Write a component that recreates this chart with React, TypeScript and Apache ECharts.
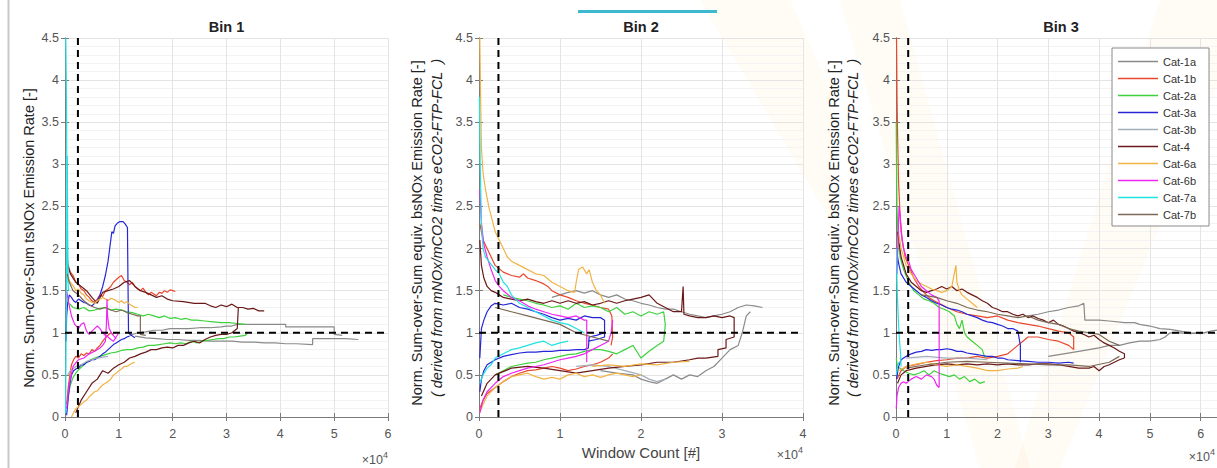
import React, { useEffect, useRef } from "react";
import * as echarts from "echarts";

const CATEGORIES = ["Cat-1a", "Cat-1b", "Cat-2a", "Cat-3a", "Cat-3b", "Cat-4", "Cat-6a", "Cat-6b", "Cat-7a", "Cat-7b"];
const COLORS = ["#8a8a8a", "#e8482c", "#3dd23d", "#2626d8", "#a4aebb", "#6a1818", "#f0b446", "#f025f0", "#22e2e2", "#7d6a55"];
const BIN_TITLES = ["Bin 1", "Bin 2", "Bin 3"];
const X_MAX = [60000, 40000, 65000];
const X_STEP = 10000;
const Y_MIN = 0;
const Y_MAX = 4.5;
const Y_STEP = 0.5;
const REF_X = 2400;
const REF_Y = 1;

// ---------------- Bin 1 ----------------
const B1_CAT1A = [
  [[12000,0.97],[13500,1.0],[15000,1.01],[16500,1.03],[18000,1.03],[19500,1.05],[21000,1.05],[23000,1.05],[25000,1.06],[27000,1.06],[29000,1.07],[30000,1.08],[31000,1.08],[32000,1.1],[34000,1.1],[37000,1.1],[41000,1.1],[41000,1.07],[45000,1.07],[50000,1.07],[50000,0.98],[51500,0.97]],
  [[13000,0.96],[15000,0.94],[17000,0.93],[19000,0.92],[21000,0.92],[23000,0.91],[25000,0.91],[27000,0.9],[29000,0.9],[31000,0.9],[33000,0.89],[35000,0.89],[37000,0.88],[39000,0.88],[41000,0.87],[43000,0.87],[46000,0.86],[46000,0.93],[49000,0.93],[52000,0.93],[54500,0.92]],
];
const B1_CAT1B = [
  [[300,1.95],[600,1.8],[1000,1.72],[1500,1.68],[2000,1.6],[2500,1.58],[3000,1.52],[3500,1.5],[4000,1.45],[4500,1.42],[5000,1.38],[5500,1.36],[6000,1.4],[6500,1.45],[7000,1.43],[7500,1.5],[8000,1.52],[8500,1.55],[9000,1.6],[9500,1.63],[10000,1.66],[10500,1.68],[11000,1.62],[11500,1.6],[12000,1.57],[12500,1.6],[13000,1.55],[13500,1.52],[14000,1.5],[14500,1.53],[15000,1.48],[15500,1.45],[16000,1.48],[16500,1.46],[17000,1.44],[17500,1.48],[18000,1.47],[18500,1.5],[19000,1.48],[19500,1.51],[20000,1.5],[20500,1.49]],
  [[300,0.15],[600,0.35],[900,0.5],[1200,0.62],[1600,0.68],[2000,0.72],[2500,0.7],[3000,0.75],[3500,0.73],[4000,0.76],[4500,0.75],[5000,0.8],[5500,0.78],[6000,0.82],[6500,0.85],[7000,0.9],[7500,0.94],[8000,0.97],[8500,1.0],[9000,0.98]],
];
const B1_CAT2A = [
  [[800,1.35],[1500,1.3],[2500,1.28],[3500,1.3],[4500,1.26],[5500,1.27],[6500,1.29],[7500,1.3],[8500,1.27],[9500,1.28],[10500,1.27],[11500,1.25],[12500,1.24],[13500,1.22],[14500,1.2],[15500,1.22],[16500,1.2],[17500,1.18],[18500,1.2],[19500,1.17],[20500,1.18],[21500,1.16],[22500,1.17],[23500,1.15],[24500,1.15],[26000,1.14],[27500,1.13],[29000,1.12],[30500,1.12],[32000,1.11],[33500,1.1]],
  [[600,0.25],[1000,0.38],[1500,0.47],[2000,0.52],[2500,0.56],[3500,0.62],[4500,0.67],[5500,0.7],[6500,0.72],[7500,0.74],[8500,0.76],[9500,0.77],[10500,0.79],[11500,0.8],[12500,0.8],[13500,0.82],[14500,0.83],[15500,0.85],[16500,0.85],[17500,0.86],[18500,0.87],[19500,0.88],[20500,0.87],[21500,0.88],[22500,0.87],[23500,0.9],[24500,0.88],[25500,0.9],[26500,0.91],[27500,0.92],[28500,0.93],[29500,0.93],[30500,0.95],[31500,0.95],[32500,0.96],[33500,0.97],[34000,1.0]],
];
const B1_CAT3A = [
  [[200,0.9],[300,1.2],[500,1.35],[800,1.45],[1200,1.42],[1600,1.38],[2000,1.36],[2500,1.4],[3000,1.38],[3500,1.36],[4000,1.35],[4500,1.33],[5000,1.32],[5500,1.35],[6000,1.38],[6500,1.45],[7000,1.55],[7500,1.68],[8000,1.85],[8400,2.05],[8700,2.2],[9000,2.18],[9300,2.27],[9700,2.3],[10200,2.32],[10800,2.32],[11200,2.29],[11600,2.25],[11700,1.6],[11800,1.0],[12300,0.97],[13000,0.94]],
  [[300,0.02],[500,0.15],[800,0.35],[1200,0.5],[1600,0.55],[2000,0.57],[2500,0.58],[3000,0.62],[3500,0.62],[4000,0.65],[4500,0.66],[5000,0.68],[5500,0.68],[6000,0.7],[6500,0.72],[7000,0.75],[7500,0.77],[8000,0.8],[8500,0.83],[9000,0.86],[9500,0.88],[10000,0.9],[10500,0.92],[11000,0.93],[11500,0.95],[12000,0.96]],
];
const B1_CAT3B = [
  [[500,0.5],[1000,0.55],[2000,0.6],[3000,0.62],[4000,0.66],[5000,0.68],[6000,0.7],[7000,0.71],[8000,0.72]],
];
const B1_CAT4 = [
  [[300,1.85],[1000,1.7],[2000,1.6],[3000,1.55],[4000,1.5],[5000,1.42],[6000,1.35],[7000,1.48],[8000,1.5],[9000,1.52],[10000,1.55],[11000,1.6],[12000,1.62],[13000,1.55],[14000,1.5],[15000,1.48],[16000,1.45],[17000,1.42],[18000,1.44],[19000,1.4],[20000,1.38],[22000,1.37],[24000,1.35],[26000,1.35],[27000,1.32],[28000,1.3],[29000,1.33],[30000,1.31],[31000,1.34],[32000,1.3],[33000,1.3],[34000,1.28],[35000,1.29],[36000,1.26],[37000,1.26]],
  [[2000,0.05],[3000,0.2],[4000,0.3],[5000,0.4],[6000,0.45],[7000,0.55],[8000,0.52],[9000,0.58],[10000,0.62],[11000,0.65],[12000,0.7],[13000,0.72],[14000,0.75],[15000,0.77],[16000,0.8],[17000,0.8],[18000,0.82],[19000,0.83],[20000,0.82],[21000,0.85],[22000,0.85],[23000,0.88],[24000,0.9],[25000,0.88],[26000,0.92],[27000,0.95],[28000,0.97],[29000,0.98],[30000,0.98],[31000,1.0],[32000,1.05],[32200,1.3],[33000,1.3]],
];
const B1_CAT6A = [
  [[200,1.8],[500,1.7],[800,1.62],[1200,1.58],[1600,1.55],[2000,1.5],[2500,1.52],[3000,1.47],[3500,1.45],[4000,1.4],[4500,1.38],[5000,1.36],[5500,1.35],[6000,1.38],[6500,1.4],[7000,1.42],[7500,1.4],[8000,1.38],[8500,1.41],[9000,1.4],[9500,1.38],[10000,1.36],[10500,1.38],[11000,1.35],[11500,1.37],[12000,1.34],[12500,1.32],[13000,1.3],[13500,1.3]],
  [[1200,0.0],[1600,0.05],[2000,0.1],[2500,0.12],[3000,0.15],[3500,0.18],[4000,0.2],[4500,0.24],[5000,0.27],[5500,0.3],[6000,0.31],[6500,0.35],[7000,0.38],[7500,0.4],[8000,0.42],[8500,0.45],[9000,0.5],[9500,0.52],[10000,0.55],[10500,0.57],[11000,0.6],[11500,0.6],[12000,0.62],[12500,0.64],[13000,0.65]],
];
const B1_CAT6B = [
  [[300,1.5],[700,1.35],[1200,1.2],[1800,1.1],[2500,1.05],[3000,1.1],[3500,1.12],[4000,1.02],[4500,0.98],[5000,1.02],[5500,1.05],[6000,1.08],[6500,1.05],[7000,1.0],[7500,0.97],[8000,0.95],[8500,0.92],[9000,0.9],[9500,0.95],[10000,1.0]],
  [[300,0.1],[800,0.4],[1500,0.6],[2500,0.68],[3500,0.7],[4500,0.75],[5500,0.78],[6500,0.82],[7000,0.85],[7500,0.9],[7700,1.1],[7800,1.4],[7900,1.2],[8200,1.05],[8800,0.98],[9500,0.93]],
];
const B1_CAT7A = [
  [[150,4.5],[200,4.2],[250,3.9],[300,3.5],[330,3.1],[360,2.8],[400,2.5],[430,2.2],[470,1.9],[520,1.7],[600,1.55],[700,1.5]],
  [[100,0.05],[150,0.4],[200,0.9],[250,1.4],[300,1.9],[350,2.4],[400,2.8],[430,3.1],[460,2.6],[500,2.2],[550,1.8],[600,1.6]],
];
const B1_CAT7B = [
  [[400,1.7],[800,1.6],[1500,1.5],[2500,1.45],[3500,1.38],[4500,1.33],[5500,1.3],[6500,1.28],[7500,1.3],[8500,1.27],[9500,1.25],[10500,1.27],[11500,1.24],[12500,1.22],[13500,1.2],[14000,1.2],[14000,0.98],[15000,0.97]],
];

// ---------------- Bin 2 ----------------
const B2_CAT1A = [
  [[9000,1.42],[10000,1.45],[11000,1.48],[12000,1.5],[13000,1.47],[14000,1.5],[15000,1.45],[16000,1.42],[17000,1.45],[18000,1.4],[19000,1.38],[20000,1.35],[21000,1.33],[22000,1.3],[23000,1.28],[24000,1.28],[25000,1.25],[26000,1.22],[27000,1.2],[28000,1.18],[29000,1.2],[30000,1.22],[31000,1.25],[32000,1.3],[33000,1.33],[34000,1.32],[35000,1.3]],
  [[15000,0.55],[17000,0.52],[19000,0.5],[20000,0.45],[21000,0.42],[22000,0.4],[23000,0.45],[24000,0.5],[25000,0.45],[26000,0.5],[27000,0.48],[28000,0.55],[29000,0.6],[30000,0.7],[31000,0.8],[32000,0.85],[32500,1.0],[33000,1.2],[33500,1.25]],
];
const B2_CAT1B = [
  [[100,2.3],[500,2.1],[1000,2.0],[1500,1.9],[2000,1.8],[3000,1.72],[4000,1.68],[5000,1.66],[5500,1.7],[6000,1.65],[7000,1.62],[8000,1.58],[8500,1.55],[9000,1.5],[10000,1.45],[11000,1.42],[12000,1.38],[13000,1.35],[14000,1.33],[15000,1.3],[16000,1.28],[16400,1.2],[16500,0.95],[16300,0.85]],
  [[100,0.1],[500,0.2],[1000,0.28],[2000,0.35],[3000,0.42],[4000,0.48],[5000,0.52],[6000,0.55],[7000,0.56],[8000,0.58],[9000,0.6],[10000,0.58],[11000,0.55],[12000,0.57],[13000,0.6],[14000,0.62],[15000,0.65],[16000,0.7],[16500,0.75]],
];
const B2_CAT2A = [
  [[3000,1.45],[4000,1.42],[5000,1.4],[6000,1.38],[7000,1.35],[8000,1.33],[9000,1.3],[10000,1.32],[11000,1.28],[12000,1.35],[13000,1.3],[14000,1.32],[15000,1.3],[16000,1.25],[17000,1.3],[18000,1.22],[19000,1.25],[20000,1.2],[21000,1.25],[22000,1.22],[22800,1.25],[23000,1.1],[22800,0.9],[22000,0.85]],
  [[2000,0.5],[3000,0.55],[4000,0.6],[5000,0.62],[6000,0.64],[7000,0.65],[8000,0.68],[9000,0.7],[10000,0.72],[11000,0.74],[12000,0.75],[13000,0.78],[14000,0.8],[15000,0.8],[16000,0.78],[17000,0.75],[18000,0.8],[19000,0.85],[20000,0.7],[21000,0.78],[22000,0.85]],
];
const B2_CAT3A = [
  [[100,0.7],[300,1.05],[600,1.15],[1000,1.25],[1500,1.32],[2000,1.35],[3000,1.33],[4000,1.35],[5000,1.3],[6000,1.28],[7000,1.25],[8000,1.22],[9000,1.18],[10000,1.15],[11000,1.17],[12000,1.15],[13000,1.2],[14000,1.18],[15000,1.18],[15500,1.15],[15500,0.95],[14500,0.92],[13500,0.9]],
  [[100,0.3],[300,0.45],[600,0.55],[1000,0.62],[2000,0.68],[3000,0.72],[4000,0.74],[5000,0.76],[6000,0.77],[7000,0.77],[8000,0.78],[9000,0.78],[10000,0.79],[11000,0.79],[12000,0.8],[13000,0.8],[13500,0.82],[13600,0.95],[14500,0.97],[15500,1.0]],
];
const B2_CAT3B = [
  [[12000,0.6],[14000,0.62],[16000,0.6],[18000,0.55],[20000,0.5],[21000,0.45],[22000,0.42],[23000,0.45]],
];
const B2_CAT4 = [
  [[100,2.1],[300,1.8],[600,1.65],[1000,1.55],[1500,1.5],[2000,1.48],[2500,1.45],[3000,1.42],[4000,1.4],[5000,1.38],[6000,1.4],[7000,1.37],[8000,1.35],[9000,1.38],[10000,1.35],[11000,1.38],[12000,1.35],[13000,1.37],[14000,1.33],[15000,1.35],[16000,1.38],[17000,1.35],[18000,1.38],[19000,1.4],[20000,1.42],[21000,1.45],[21500,1.4],[22000,1.35],[23000,1.3],[24000,1.25],[25000,1.25],[25200,1.55],[25300,1.22],[26000,1.2],[27000,1.18],[28000,1.18],[29000,1.2],[30000,1.18],[31000,1.2],[31500,1.18],[31500,0.95],[30500,0.92],[30500,0.82],[29500,0.8],[29500,0.72],[28000,0.7]],
  [[300,0.25],[1000,0.4],[2000,0.5],[4000,0.58],[6000,0.6],[8000,0.58],[10000,0.55],[12000,0.52],[14000,0.55],[16000,0.58],[18000,0.6],[20000,0.62],[22000,0.65],[24000,0.65],[26000,0.68],[27000,0.7],[28000,0.7]],
];
const B2_CAT6A = [
  [[100,4.5],[200,3.8],[300,3.2],[500,2.9],[800,2.7],[1200,2.5],[1600,2.35],[2000,2.2],[2500,2.1],[3000,2.0],[3500,1.9],[4000,1.85],[5000,1.8],[6000,1.75],[7000,1.7],[8000,1.68],[9000,1.6],[10000,1.55],[11000,1.5],[11800,1.48],[12000,1.6],[12300,1.75],[12800,1.78],[13300,1.7],[13600,1.75],[14000,1.6],[14500,1.5],[15000,1.45],[15500,1.35]],
  [[100,0.05],[500,0.15],[1000,0.25],[2000,0.35],[3000,0.42],[4000,0.48],[5000,0.5],[6000,0.52],[7000,0.48],[8000,0.45],[9000,0.47],[10000,0.45],[11000,0.5],[12000,0.52],[13000,0.48],[14000,0.5],[15000,0.47],[16000,0.5],[17000,0.52],[18000,0.5],[19000,0.48],[20000,0.5]],
  [[14000,0.6],[16000,0.62],[18000,0.6],[20000,0.63],[22000,0.62],[24000,0.65],[26000,0.66]],
];
const B2_CAT6B = [
  [[100,2.7],[300,2.3],[600,2.05],[1000,1.9],[1500,1.75],[2000,1.62],[2500,1.55],[3000,1.5],[4000,1.42],[5000,1.38],[6000,1.32],[7000,1.28],[8000,1.25],[9000,1.22],[10000,1.2],[11000,1.18],[12000,1.2],[13000,1.15],[13300,1.15],[13300,0.65]],
  [[100,0.05],[500,0.2],[1000,0.3],[2000,0.4],[3000,0.48],[4000,0.52],[5000,0.55],[6000,0.58],[7000,0.6],[8000,0.62],[9000,0.65],[10000,0.68],[11000,0.7],[12000,0.72],[13000,0.75],[14000,0.8],[15000,0.85],[16000,0.9],[16300,1.0],[16500,1.15]],
];
const B2_CAT7A = [
  [[50,3.8],[150,3.0],[300,2.3],[500,2.0],[800,1.9],[1200,1.85],[2000,1.75],[2500,1.7],[3000,1.6],[3500,1.55],[4000,1.45],[5000,1.35],[6000,1.3],[7000,1.25],[8000,1.2],[9000,1.15],[10000,1.12],[11000,1.1],[12000,1.05],[13000,1.0]],
  [[100,0.4],[500,0.5],[1000,0.58],[1500,0.62],[2000,0.7],[3000,0.75],[4000,0.8],[5000,0.82],[6000,0.85],[7000,0.88],[8000,0.9],[9000,0.85],[10000,0.88],[11000,0.9]],
];
const B2_CAT7B = [
  [[2000,1.3],[4000,1.25],[6000,1.2],[8000,1.15],[10000,1.1],[12000,1.0],[14000,0.95],[16000,0.9]],
];

// ---------------- Bin 3 ----------------
const B3_CAT1A = [
  [[26000,1.2],[28000,1.22],[30000,1.25],[32000,1.27],[34000,1.3],[36000,1.32],[37000,1.35],[37200,1.15],[40000,1.15],[42000,1.14],[45000,1.12],[47000,1.12],[48000,1.1],[50000,1.08],[52000,1.05],[54000,1.04],[56000,1.02],[58000,1.0],[60000,0.99],[62000,1.02],[64000,1.04],[65000,1.05]],
  [[30000,0.72],[33000,0.75],[36000,0.78],[38000,0.8],[40000,0.82],[42000,0.85],[44000,0.85],[46000,0.88],[48000,0.9],[50000,0.9],[52000,0.92],[53000,0.95],[54000,1.0],[56000,1.0],[58000,0.99],[60000,1.0]],
];
const B3_CAT1B = [
  [[100,4.5],[150,4.2],[200,3.8],[300,3.4],[500,2.8],[800,2.4],[1200,2.1],[1800,1.9],[2500,1.8],[3500,1.65],[4500,1.55],[5500,1.48],[6500,1.42],[7500,1.38],[8500,1.35],[10000,1.3],[12000,1.25],[14000,1.22],[16000,1.2],[18000,1.18],[20000,1.2],[22000,1.15],[24000,1.12],[26000,1.1],[28000,1.08],[30000,1.05],[32000,1.02],[34000,1.0],[35000,0.95],[35000,0.8]],
  [[200,0.45],[1000,0.55],[2000,0.6],[4000,0.62],[6000,0.65],[8000,0.67],[10000,0.68],[12000,0.7],[14000,0.7],[16000,0.72],[18000,0.7],[20000,0.72],[22000,0.75],[23000,0.8],[24000,0.85],[25000,0.9],[26000,0.95],[28000,0.95],[30000,0.92],[32000,0.9],[34000,0.85],[35000,0.8]],
];
const B3_CAT2A = [
  [[50,3.5],[100,3.0],[200,2.5],[400,2.1],[800,1.9],[1500,1.75],[2500,1.6],[3500,1.5],[4500,1.45],[5500,1.4],[6500,1.38],[7500,1.35],[8500,1.3],[9500,1.28],[10500,1.25],[11500,1.2],[12000,1.1],[12500,1.05],[13000,1.15],[13500,1.0],[14000,0.95],[15000,0.9],[16000,0.85],[17000,0.8],[17500,0.7]],
  [[50,0.7],[300,0.6],[800,0.58],[1500,0.55],[2500,0.52],[3500,0.5],[4500,0.52],[5500,0.55],[6500,0.5],[7500,0.55],[8500,0.52],[9500,0.5],[10500,0.48],[11500,0.5],[12500,0.45],[13500,0.48],[14500,0.42],[15500,0.45],[16500,0.4],[17500,0.42]],
];
const B3_CAT3A = [
  [[100,2.0],[300,1.9],[600,1.8],[1000,1.7],[2000,1.6],[3000,1.55],[4000,1.5],[5000,1.45],[6000,1.42],[7000,1.38],[8000,1.35],[9000,1.33],[10000,1.3],[11000,1.28],[12000,1.27],[13000,1.25],[14000,1.22],[15000,1.2],[16000,1.18],[17000,1.15],[18000,1.13],[19000,1.12],[20000,1.1],[21000,1.08],[22000,1.05],[23000,1.05],[24000,1.02],[24500,0.85],[24500,0.65]],
  [[100,0.45],[500,0.6],[1000,0.68],[2000,0.72],[3000,0.75],[4000,0.77],[5000,0.78],[6000,0.8],[7000,0.79],[8000,0.8],[9000,0.8],[10000,0.81],[11000,0.8],[12000,0.78],[13000,0.78],[14000,0.76],[15000,0.75],[16000,0.74],[17000,0.73],[18000,0.72],[19000,0.72],[20000,0.7],[21000,0.7],[22000,0.68],[24000,0.67],[26000,0.66],[28000,0.65],[30000,0.65],[32000,0.64],[34000,0.65],[35000,0.64]],
];
const B3_CAT3B = [
  [[2000,0.7],[6000,0.72],[10000,0.7],[14000,0.7],[18000,0.68]],
];
const B3_CAT4 = [
  [[300,2.2],[1000,1.9],[2000,1.7],[3000,1.6],[4000,1.55],[5000,1.5],[6000,1.48],[7000,1.5],[8000,1.52],[9000,1.55],[10000,1.52],[11000,1.55],[12000,1.5],[13000,1.52],[14000,1.48],[15000,1.45],[16000,1.42],[17000,1.38],[18000,1.35],[19000,1.3],[20000,1.28],[21000,1.25],[22000,1.25],[23000,1.22],[24000,1.2],[25000,1.22],[26000,1.18],[27000,1.2],[28000,1.17],[29000,1.15],[30000,1.12],[31000,1.15],[32000,1.1],[33000,1.08],[34000,1.05],[35000,1.02],[36000,1.0],[37000,0.98],[38000,0.95],[39000,0.97],[40000,0.92],[41000,0.88],[42000,0.85],[43000,0.82],[44000,0.78],[45000,0.75],[45000,0.7]],
  [[300,0.4],[1000,0.5],[2000,0.55],[4000,0.58],[6000,0.6],[8000,0.62],[10000,0.63],[12000,0.62],[14000,0.63],[16000,0.62],[18000,0.63],[20000,0.62],[22000,0.63],[24000,0.62],[26000,0.62],[28000,0.63],[30000,0.63],[32000,0.62],[34000,0.6],[36000,0.58],[38000,0.58],[39000,0.6],[40000,0.55],[41000,0.6],[42000,0.62],[43000,0.65],[44000,0.68],[45000,0.7]],
];
const B3_CAT6A = [
  [[500,2.2],[1000,2.0],[2000,1.8],[3000,1.7],[4000,1.62],[5000,1.58],[6000,1.55],[7000,1.52],[8000,1.5],[9000,1.48],[10000,1.5],[11000,1.55],[11800,1.8],[12000,1.6],[12500,1.5],[13000,1.45],[14000,1.4],[15000,1.35],[16000,1.3]],
  [[500,0.55],[2000,0.6],[4000,0.63],[6000,0.65],[8000,0.62],[10000,0.6],[12000,0.62],[14000,0.6],[16000,0.58],[18000,0.55],[20000,0.55],[22000,0.57],[24000,0.58],[25000,0.6]],
];
const B3_CAT6B = [
  [[200,1.7],[400,2.1],[600,2.5],[800,2.4],[1000,2.2],[1500,2.0],[2000,1.9],[2500,1.85],[3000,1.75],[4000,1.65],[5000,1.55],[6000,1.5],[7000,1.45],[8000,1.42],[8500,1.38],[8500,0.35]],
  [[50,0.1],[200,0.25],[500,0.35],[1000,0.4],[1500,0.42],[2000,0.4],[3000,0.45],[4000,0.48],[5000,0.45],[6000,0.5],[7000,0.48],[7500,0.45],[8000,0.38],[8500,0.35]],
];
const B3_CAT7A = [
  [[100,2.0],[200,1.6],[300,1.4],[500,1.1],[700,0.9],[900,0.75],[1000,0.6]],
  [[50,0.5],[300,0.6],[600,0.65]],
];
const B3_CAT7B = [
  [[5000,1.45],[8000,1.42],[10000,1.38],[12000,1.35],[14000,1.3],[16000,1.27],[18000,1.25],[20000,1.22],[22000,1.2],[24000,1.18],[26000,1.2],[28000,1.15],[30000,1.12],[32000,1.1],[34000,1.05],[36000,1.02],[38000,1.0],[40000,0.98],[42000,0.9],[44000,0.85]],
  [[2000,0.58],[6000,0.62],[10000,0.65],[14000,0.66],[18000,0.65],[22000,0.64],[26000,0.63],[30000,0.62],[34000,0.62],[38000,0.6],[42000,0.65],[44000,0.72]],
];

const BIN1_LINES = [B1_CAT1A, B1_CAT1B, B1_CAT2A, B1_CAT3A, B1_CAT3B, B1_CAT4, B1_CAT6A, B1_CAT6B, B1_CAT7A, B1_CAT7B];
const BIN2_LINES = [B2_CAT1A, B2_CAT1B, B2_CAT2A, B2_CAT3A, B2_CAT3B, B2_CAT4, B2_CAT6A, B2_CAT6B, B2_CAT7A, B2_CAT7B];
const BIN3_LINES = [B3_CAT1A, B3_CAT1B, B3_CAT2A, B3_CAT3A, B3_CAT3B, B3_CAT4, B3_CAT6A, B3_CAT6B, B3_CAT7A, B3_CAT7B];
const ALL_BINS = [BIN1_LINES, BIN2_LINES, BIN3_LINES];

const FONT = "'Liberation Sans', Arial, Helvetica, sans-serif";
const GRID_LEFT = [65, 479, 896];
const GRID_WIDTH = [323, 324, 330];
const GRID_TOP = 38;
const GRID_HEIGHT = 379;

export default function App() {
  const ref = useRef<HTMLDivElement>(null);

  useEffect(() => {
    if (!ref.current) return;
    const chart = echarts.init(ref.current, null, { renderer: "svg" });

    const grids = GRID_LEFT.map((l, i) => ({ left: l, top: GRID_TOP, width: GRID_WIDTH[i], height: GRID_HEIGHT, containLabel: false }));

    const axisLineStyle = { color: "#7a7a7a", width: 1 };
    const xAxes: any[] = [];
    const yAxes: any[] = [];
    for (let i = 0; i < 3; i++) {
      xAxes.push({
        type: "value", gridIndex: i, min: 0, max: X_MAX[i], interval: X_STEP, position: "bottom",
        axisLine: { show: true, lineStyle: axisLineStyle },
        axisTick: { show: true, inside: true, length: 4, lineStyle: axisLineStyle },
        axisLabel: { show: true, margin: 10, fontSize: 12.5, color: "#555", fontFamily: FONT, showMaxLabel: i !== 2,
          formatter: (v: number) => String(v / 10000) },
        splitLine: { show: true, lineStyle: { color: "#e4e4e4", width: 1 } },
      });
      yAxes.push({
        type: "value", gridIndex: i, min: Y_MIN, max: Y_MAX, interval: Y_STEP, position: "left",
        axisLine: { show: true, lineStyle: axisLineStyle },
        axisTick: { show: true, inside: true, length: 4, lineStyle: axisLineStyle },
        axisLabel: { show: true, margin: 6, fontSize: 12.5, color: "#555", fontFamily: FONT, formatter: (v: number) => String(v) },
        splitLine: { show: true, lineStyle: { color: "#e4e4e4", width: 1 } },
        minorTick: { show: false, splitNumber: 5 },
        minorSplitLine: { show: true, lineStyle: { color: "#f3f3f3", width: 1 } },
      });
    }
    for (let i = 0; i < 3; i++) {
      xAxes.push({
        type: "value", gridIndex: i, min: 0, max: X_MAX[i], interval: X_STEP, position: "top",
        axisLine: { show: true, lineStyle: axisLineStyle },
        axisTick: { show: true, inside: true, length: 4, lineStyle: axisLineStyle },
        axisLabel: { show: false }, splitLine: { show: false },
      });
      yAxes.push({
        type: "value", gridIndex: i, min: Y_MIN, max: Y_MAX, interval: Y_STEP, position: "right",
        axisLine: { show: true, lineStyle: axisLineStyle },
        axisTick: { show: true, inside: true, length: 4, lineStyle: axisLineStyle },
        axisLabel: { show: false }, splitLine: { show: false },
      });
    }

    const series: any[] = [];
    ALL_BINS.forEach((bin, b) => {
      bin.forEach((lines, c) => {
        lines.forEach((pts) => {
          series.push({
            type: "line", name: CATEGORIES[c], xAxisIndex: b, yAxisIndex: b, data: pts,
            symbol: "none", showSymbol: false, color: COLORS[c],
            lineStyle: { color: COLORS[c], width: 1.2 }, z: 3, silent: true,
          });
        });
      });
      const refStyle = { color: "#000", width: 2, type: [7, 5] };
      series.push({
        type: "line", name: "refV" + b, xAxisIndex: b, yAxisIndex: b, data: [[REF_X, Y_MIN], [REF_X, Y_MAX]],
        symbol: "none", lineStyle: refStyle, z: 6, silent: true,
      });
      series.push({
        type: "line", name: "refH" + b, xAxisIndex: b, yAxisIndex: b, data: [[0, REF_Y], [X_MAX[b], REF_Y]],
        symbol: "none", lineStyle: refStyle, z: 6, silent: true,
      });
    });

    const graphics: any[] = [];
    // very faint watermark shapes
    const wm = { fill: "rgba(248,200,120,0.07)" };
    graphics.push({ type: "polygon", silent: true, z: -10, shape: { points: [[840, 0], [900, 0], [1030, 468], [980, 468]] }, style: wm });
    graphics.push({ type: "polygon", silent: true, z: -10, shape: { points: [[1160, 0], [1240, 0], [1240, 30], [1060, 468], [1015, 468]] }, style: wm });
    graphics.push({ type: "polygon", silent: true, z: -10, shape: { points: [[700, 0], [790, 0], [830, 90], [830, 220]] }, style: wm });
    // left border line
    graphics.push({ type: "line", silent: true, shape: { x1: 8.5, y1: 0, x2: 8.5, y2: 468 }, style: { stroke: "#c8c8c8", lineWidth: 2 } });
    // cyan bar
    graphics.push({ type: "rect", silent: true, shape: { x: 578, y: 10, width: 139, height: 3 }, style: { fill: "#3cb8cf" } });
    // titles
    BIN_TITLES.forEach((t, i) => {
      graphics.push({
        type: "text", silent: true, x: GRID_LEFT[i] + GRID_WIDTH[i] / 2, y: 27,
        style: { text: t, fontFamily: FONT, fontSize: 14.5, fontWeight: "bold", fill: "#222", textAlign: "center", textVerticalAlign: "middle" },
      });
    });
    // y labels
    graphics.push({
      type: "text", silent: true, x: 29, y: 238, rotation: Math.PI / 2,
      style: { text: "Norm. Sum-over-Sum tsNOx Emission Rate [-]", fontFamily: FONT, fontSize: 14.5, fill: "#222", textAlign: "center", textVerticalAlign: "middle" },
    });
    [[417, 437], [834, 853]].forEach(([x1, x2]) => {
      graphics.push({
        type: "text", silent: true, x: x1, y: 233, rotation: Math.PI / 2,
        style: { text: "Norm. Sum-over-Sum equiv. bsNOx Emission Rate [-]", fontFamily: FONT, fontSize: 14.5, fill: "#222", textAlign: "center", textVerticalAlign: "middle" },
      });
      graphics.push({
        type: "text", silent: true, x: x2, y: 228, rotation: Math.PI / 2,
        style: { text: "( derived from mNOx/mCO2 times eCO2-FTP-FCL  )", fontFamily: FONT, fontSize: 14.5, fontStyle: "italic", fill: "#222", textAlign: "center", textVerticalAlign: "middle" },
      });
    });
    // x label
    graphics.push({
      type: "text", silent: true, x: 641, y: 452,
      style: { text: "Window Count [#]", fontFamily: FONT, fontSize: 15, fill: "#444", textAlign: "center", textVerticalAlign: "middle" },
    });
    // exponent labels
    [[388, 458], [803, 453], [1215, 455]].forEach(([x, y]) => {
      graphics.push({
        type: "text", silent: true, x, y,
        style: {
          text: "{a|×10}{b|4}", textAlign: "right", textVerticalAlign: "middle",
          rich: {
            a: { fontFamily: FONT, fontSize: 12.5, fill: "#555", color: "#555", lineHeight: 16, verticalAlign: "bottom" },
            b: { fontFamily: FONT, fontSize: 9, fill: "#555", color: "#555", lineHeight: 16, verticalAlign: "top" },
          },
        },
      });
    });

    chart.setOption({
      animation: false,
      backgroundColor: "#fff",
      textStyle: { fontFamily: FONT },
      grid: grids,
      xAxis: xAxes,
      yAxis: yAxes,
      legend: {
        data: CATEGORIES, orient: "vertical", left: 1112, top: 48,
        icon: "rect", itemWidth: 40, itemHeight: 1.6, itemGap: 4,
        padding: [7, 13, 5, 6],
        backgroundColor: "#fff", borderColor: "#8a8a8a", borderWidth: 1,
        textStyle: { fontFamily: FONT, fontSize: 11, color: "#333", lineHeight: 13 },
        selectedMode: false,
      },
      series,
      graphic: graphics,
    });

    return () => chart.dispose();
  }, []);

  return (
    <div style={{ position: "fixed", left: 0, top: 0, width: "100vw", height: "100vh", overflow: "hidden", background: "#fff" }}>
      <div ref={ref} style={{ width: 1240, height: 468 }} />
    </div>
  );
}
